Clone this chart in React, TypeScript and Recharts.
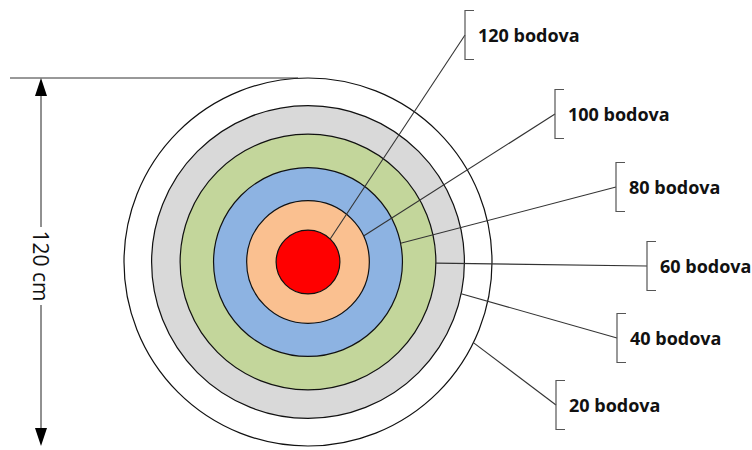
import { PieChart, Pie, Cell } from "recharts";

// rings from the outside in
const ringPoints = [20, 40, 60, 80, 100, 120];
const ringLabels = ["20 bodova", "40 bodova", "60 bodova", "80 bodova", "100 bodova", "120 bodova"];
const ringRadiusCm = [60, 51, 41.7, 30.8, 20, 10.4];
const ringColors = ["#FFFFFF", "#D9D9D9", "#C3D69B", "#8DB3E2", "#FAC090", "#FF0000"];
const diameterLabel = "120 cm";
const diameterCm = 120;

// where each leader line leaves its ring (deg) and where its bracket sits
const leaderLayout = [
  { angle: -26, bx: 556, by: 405 },
  { angle: -11.7, bx: 617, by: 338 },
  { angle: -0.5, bx: 647, by: 266 },
  { angle: 11.4, bx: 616, by: 187 },
  { angle: 25, bx: 555, by: 114 },
  { angle: 46, bx: 465, by: 35 },
];

const CX = 308;
const CY = 262;
const OUTER_PX = 184;
const pxPerCm = OUTER_PX / (diameterCm / 2);
const FONT = "'Open Sans', sans-serif";

function DimensionLine({ cx, cy, r }: { cx: number; cy: number; r: number }) {
  const x = 41;
  const top = cy - r;
  const bottom = cy + r;
  const mid = cy + 4;
  return (
    <g>
      <line x1={10} y1={top} x2={cx - 10} y2={top} stroke="#333" strokeWidth={1} />
      <line x1={x} y1={top + 16} x2={x} y2={mid - 39} stroke="#222" strokeWidth={1} />
      <line x1={x} y1={mid + 39} x2={x} y2={bottom - 16} stroke="#222" strokeWidth={1} />
      <polygon points={`${x},${top} ${x - 6},${top + 18} ${x + 6},${top + 18}`} fill="#000" />
      <polygon points={`${x},${bottom} ${x - 6},${bottom - 18} ${x + 6},${bottom - 18}`} fill="#000" />
      <text
        x={x}
        y={mid}
        transform={`rotate(90, ${x}, ${mid})`}
        textAnchor="middle"
        dominantBaseline="central"
        fontFamily={FONT}
        fontSize={21}
        fill="#111"
      >
        {diameterLabel}
      </text>
    </g>
  );
}

function makeLabel(i: number) {
  return (props: any) => {
    const { cx, cy, outerRadius } = props;
    const lay = leaderLayout[i];
    const rad = (lay.angle * Math.PI) / 180;
    const sx = cx + outerRadius * Math.cos(rad);
    const sy = cy - outerRadius * Math.sin(rad);
    const h = 24.5;
    return (
      <g>
        <circle cx={cx} cy={cy} r={outerRadius} fill="none" stroke="#111" strokeWidth={1.2} />
        <line x1={sx} y1={sy} x2={lay.bx} y2={lay.by} stroke="#333" strokeWidth={1.1} />
        <polyline
          points={`${lay.bx + 9},${lay.by - h} ${lay.bx},${lay.by - h} ${lay.bx},${lay.by + h} ${lay.bx + 9},${lay.by + h}`}
          fill="none"
          stroke="#555"
          strokeWidth={1.2}
        />
        <text
          x={lay.bx + 13}
          y={lay.by}
          dominantBaseline="central"
          fontFamily={FONT}
          fontWeight={700}
          fontSize={18}
          fill="#111"
        >
          {ringLabels[i]}
        </text>
        {i === 0 && <DimensionLine cx={cx} cy={cy} r={outerRadius} />}
      </g>
    );
  };
}

export default function App() {
  return (
    <div style={{ position: "absolute", left: 0, top: 0, background: "#fff" }}>
      <PieChart width={752} height={450} margin={{ top: 0, right: 0, bottom: 0, left: 0 }}>
        {ringPoints.map((pts, i) => (
          <Pie
            key={pts}
            data={[{ name: ringLabels[i], value: 1 }]}
            dataKey="value"
            cx={CX}
            cy={CY}
            innerRadius={0}
            outerRadius={ringRadiusCm[i] * pxPerCm}
            startAngle={0}
            endAngle={360}
            stroke="none"
            label={makeLabel(i)}
            labelLine={false}
            isAnimationActive={false}
          >
            <Cell fill={ringColors[i]} />
          </Pie>
        ))}
      </PieChart>
    </div>
  );
}
